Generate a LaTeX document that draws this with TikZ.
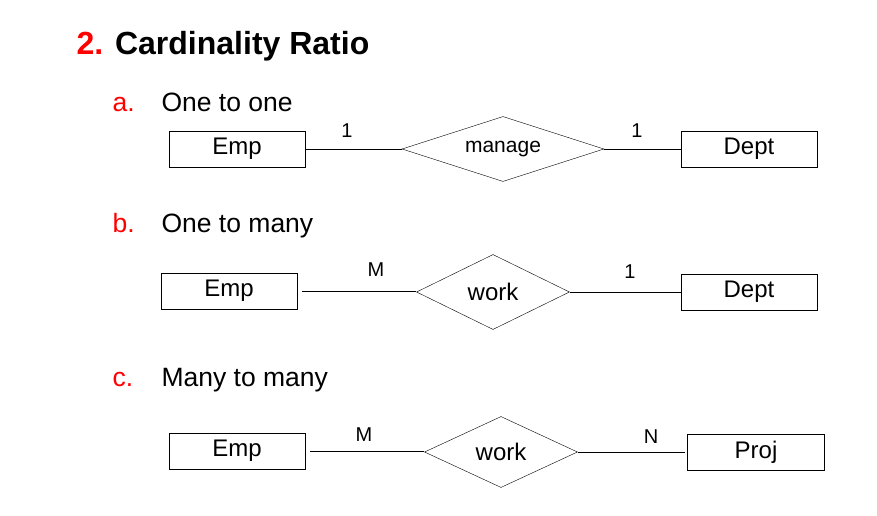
\documentclass[tikz,border=0pt]{standalone}
\usepackage{fontspec}
\setmainfont{Liberation Sans}
\usetikzlibrary{shapes.geometric}
\begin{document}
\begin{tikzpicture}[x=1pt,y=-1pt,
  entity/.style={draw, minimum width=136pt, minimum height=36pt, inner sep=0pt, font=\fontsize{24}{28}\selectfont},
  relation/.style={draw, diamond, shape aspect=2.5, inner sep=0pt, font=\fontsize{24}{28}\selectfont},
  card/.style={font=\fontsize{20}{24}\selectfont},
  item/.style={anchor=base west, font=\fontsize{26.5}{31}\selectfont},
  listmark/.style={anchor=base west, text=red, font=\fontsize{26.5}{31}\selectfont}]
\useasboundingbox (0,0) rectangle (877,516);
\node[anchor=base west, font=\fontsize{32}{38}\selectfont\bfseries] (title) at (73,55) {\textcolor{red}{2.} Cardinality Ratio};
% a. one to one
\node[listmark] (ma) at (109,111) {a.};
\node[item] (ta) at (158,111) {One to one};
\node[entity] (empA) at (237,149) {Emp};
\node[relation, minimum width=202pt, minimum height=65pt, shape aspect=3, font=\fontsize{21}{25}\selectfont] (manage) at (503,149) {manage};
\node[entity] (deptA) at (749,149) {Dept};
\draw (empA) -- (manage);
\draw (manage) -- (deptA);
\node[card] (la) at (347,131) {1};
\node[card] (ra) at (637,131) {1};
% b. one to many
\node[listmark] (mb) at (109,232) {b.};
\node[item] (tb) at (158,232) {One to many};
\node[entity] (empB) at (229,291) {Emp};
\node[relation, minimum width=153pt, minimum height=75pt] (workB) at (493,292) {work};
\node[entity] (deptB) at (749,292) {Dept};
\draw[shorten <=5pt] (empB.east) -- (empB.east -| workB.west);
\draw (workB.east) -- (deptB.west);
\node[card] (lb) at (376,270) {M};
\node[card] (rb) at (630,272) {1};
% c. many to many
\node[listmark] (mc) at (109,386) {c.};
\node[item] (tc) at (158,386) {Many to many};
\node[entity] (empC) at (237,451) {Emp};
\node[relation, minimum width=153pt, minimum height=71pt] (workC) at (501,452) {work};
\node[entity, minimum width=137pt] (proj) at (756,452) {Proj};
\draw[shorten <=5pt] (empC.east) -- (empC.east -| workC.west);
\draw[shorten >=2pt] (workC.east) -- (proj.west);
\node[card] (lc) at (364,435) {M};
\node[card] (rc) at (651,437) {N};
\end{tikzpicture}
\end{document}
